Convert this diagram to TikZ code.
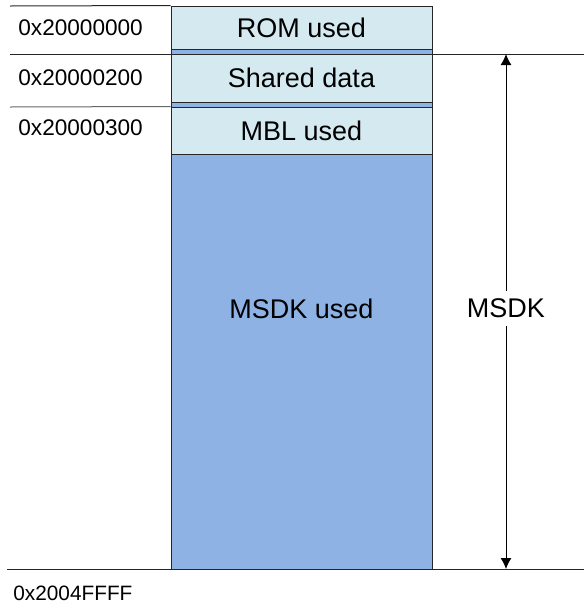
\documentclass[tikz,border=0pt]{standalone}
\usepackage{fontspec}
\setmainfont{Liberation Sans}
\usetikzlibrary{arrows.meta}
\definecolor{usedlight}{RGB}{212,234,240}
\definecolor{usedblue}{RGB}{141,178,227}
\tikzstyle{region} = [rectangle, draw=black!85, line width=0.5pt, minimum width=130.5pt, inner sep=0pt, font=\fontsize{13.5}{16}\selectfont]
\tikzstyle{lightbox} = [region, fill=usedlight]
\tikzstyle{bluebox} = [region, fill=usedblue]
\tikzstyle{addr} = [anchor=west, inner sep=0pt, font=\fontsize{11.3}{13}\selectfont]
\tikzstyle{addrline} = [line width=0.5pt, black!85]
\tikzstyle{arrow} = [line width=0.5pt, {Latex[length=5.5pt,width=5.5pt]}-{Latex[length=5.5pt,width=5.5pt]}]

\begin{document}
\begin{tikzpicture}[x=0.5pt, y=-0.5pt]
\useasboundingbox (0,0) rectangle (584,606);

\node (msdk) [bluebox, minimum height=259.75pt] at (301.5,309.25) {MSDK used};

\coordinate (top0) at (10,6);
\coordinate (top1) at (10,54);
\coordinate (end1) at (584,54);
\coordinate (top2) at (10,107);
\coordinate (bot0) at (7,569);
\coordinate (bot1) at (584,569);
\draw [addrline] (top1) -- (end1);
\draw [addrline] (bot0) -- (bot1);

\node (rom) [lightbox, minimum height=21.75pt] at (301.5,27.75) {ROM used};
\node (shared) [lightbox, minimum height=24pt] at (301.5,78) {Shared data};
\node (mbl) [lightbox, minimum height=23.5pt] at (301.5,130.5) {MBL used};

\draw [addrline] (top0) -- (rom.north west);
\draw [addrline, black!60] (top2) -- (mbl.north west);

\node (a0) [addr] at (18,28) {0x20000000};
\node (a1) [addr] at (18,78) {0x20000200};
\node (a2) [addr] at (18,128) {0x20000300};
\node (a3) [addr, font=\fontsize{10.4}{12}\selectfont] at (13,593) {0x2004FFFF};

\coordinate (up) at (506,54);
\coordinate (down) at (506,569);
\draw [arrow] (up) -- (down);
\node (size) [fill=white, inner sep=0pt, minimum height=17.5pt, minimum width=42pt, font=\fontsize{13.5}{16}\selectfont] at (506,308) {MSDK};

\end{tikzpicture}
\end{document}
